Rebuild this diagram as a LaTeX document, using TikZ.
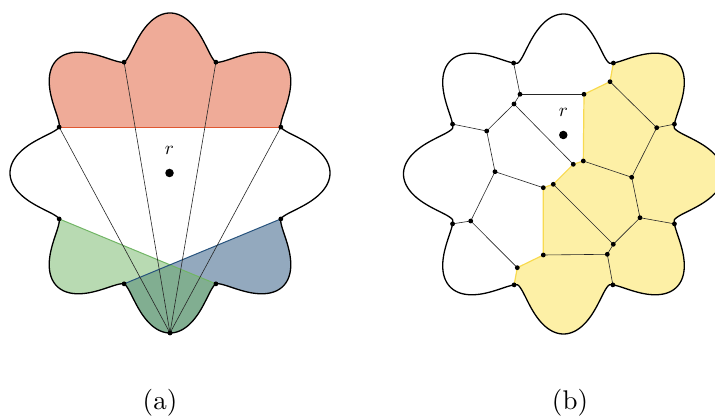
\documentclass[tikz,border=0pt]{standalone}
\definecolor{redline}{RGB}{223,87,49}
\definecolor{redfill}{RGB}{239,171,152}
\definecolor{greenbase}{RGB}{113,181,101}
\definecolor{bluebase}{RGB}{39,83,125}
\definecolor{yelline}{RGB}{248,218,80}
\definecolor{yelfill}{RGB}{253,240,166}
\begin{document}
\begin{tikzpicture}[x=1pt,y=-1pt,
  declare function={fc(\t)=abs(cos(4*\t)); fr(\t)=120+40*fc(\t)*sqrt(fc(\t));},
  rim/.style={line width=1.3pt,black},
  edge/.style={line width=0.6pt,black!85},
  vtx/.style={circle,fill=black,inner sep=0pt,minimum size=4.8pt},
  root/.style={circle,fill=black,inner sep=0pt,minimum size=8.5pt},
  lbl/.style={inner sep=0pt},
  captxt/.style={inner sep=0pt},
]
\useasboundingbox (0,0) rectangle (715,419);

% ---------- left flower, centre (170,173) ----------
\foreach \n/\a in {a1/157.5,a2/112.5,a3/67.5,a4/22.5,a5/202.5,a6/247.5,a7/292.5,a8/337.5,a9/270}
  \coordinate (\n) at ({170+fr(\a)*cos(\a)},{173-fr(\a)*sin(\a)});

\fill[redfill] plot[domain=22.5:157.5,samples=200] ({170+fr(\x)*cos(\x)},{173-fr(\x)*sin(\x)}) -- cycle;
\fill[bluebase,fill opacity=0.5] plot[domain=247.5:337.5,samples=200] ({170+fr(\x)*cos(\x)},{173-fr(\x)*sin(\x)}) -- cycle;
\fill[greenbase,fill opacity=0.5] plot[domain=202.5:292.5,samples=200] ({170+fr(\x)*cos(\x)},{173-fr(\x)*sin(\x)}) -- cycle;

\draw[redline,line width=1pt] (a1) -- (a4);
\draw[greenbase,line width=1pt] (a5) -- (a7);
\draw[bluebase,line width=1pt] (a8) -- (a6);

\foreach \t in {a1,a2,a3,a4} \draw[edge] (a9) -- (\t);

\draw[rim] plot[domain=0:360,samples=721] ({170+fr(\x)*cos(\x)},{173-fr(\x)*sin(\x)}) -- cycle;

\foreach \n in {a1,a2,a3,a4,a5,a6,a7,a8,a9} \node[vtx] at (\n) {};
\node[root] (rl) at (169.5,173) {};
\node[lbl,anchor=south] (rlt) at (169.5,155) {\scalebox{1.9}{$r$}};
\node[captxt] (capa) at (160,403) {\scalebox{2.7}{(a)}};

% ---------- right flower, centre (563.5,174) ----------
\foreach \n/\a in {b1/114.2,b2/65.8,b3/24.2,b4/335.8,b5/294,b6/246,b7/204.2,b8/155.8}
  \coordinate (\n) at ({563.5+fr(\a)*cos(\a)},{174-fr(\a)*sin(\a)});

\coordinate (n1) at (520,94.3);
\coordinate (n2) at (584,94.3);
\coordinate (n3) at (610,81.7);
\coordinate (n4) at (514,104);
\coordinate (n5) at (486.7,131);
\coordinate (n6) at (656.7,127.7);
\coordinate (n7) at (573.3,164.3);
\coordinate (n8) at (583.3,161);
\coordinate (n9) at (495,171.7);
\coordinate (n10) at (631.7,177.3);
\coordinate (n11) at (553.3,184.3);
\coordinate (n12) at (543.3,187.7);
\coordinate (n13) at (470.7,221);
\coordinate (n14) at (640,217.7);
\coordinate (n15) at (613.3,244.3);
\coordinate (n16) at (543.3,255);
\coordinate (n17) at (607.3,254.3);
\coordinate (n18) at (517.3,267.7);

\fill[yelfill] plot[domain=-114:65.8,samples=300] ({563.5+fr(\x)*cos(\x)},{174-fr(\x)*sin(\x)})
  -- (n3) -- (n2) -- (n8) -- (n7) -- (n11) -- (n12) -- (n16) -- (n18) -- cycle;
\draw[yelline,line width=1.2pt] (b2) -- (n3) -- (n2) -- (n8) -- (n7) -- (n11) -- (n12) -- (n16) -- (n18) -- (b6);

\foreach \u/\v in {b1/n1,n1/n2,n1/n4,n4/n5,n4/n7,n5/b8,n5/n9,n9/n12,n9/n13,n13/b7,n13/n18,
                   n3/n6,n6/b3,n6/n10,n8/n10,n10/n14,n14/b4,n14/n15,n11/n15,n15/n17,n16/n17,n17/b5}
  \draw[edge] (\u) -- (\v);

\draw[rim] plot[domain=0:360,samples=721] ({563.5+fr(\x)*cos(\x)},{174-fr(\x)*sin(\x)}) -- cycle;

\foreach \n in {b1,b2,b3,b4,b5,b6,b7,b8,n1,n2,n3,n4,n5,n6,n7,n8,n9,n10,n11,n12,n13,n14,n15,n16,n17,n18}
  \node[vtx] at (\n) {};
\node[root] (rr) at (563.3,135) {};
\node[lbl,anchor=south] (rrt) at (563.3,117) {\scalebox{1.9}{$r$}};
\node[captxt] (capb) at (570,403) {\scalebox{2.7}{(b)}};
\end{tikzpicture}
\end{document}
